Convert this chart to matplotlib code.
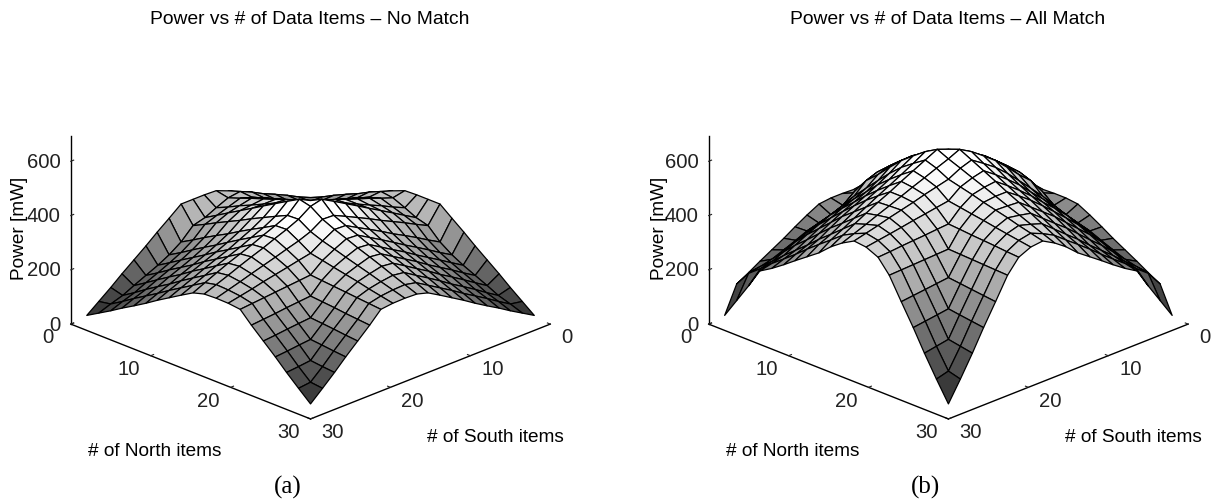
import numpy as np
import matplotlib
matplotlib.use('Agg')
import matplotlib.pyplot as plt
from matplotlib.colors import Normalize
from mpl_toolkits.mplot3d import Axes3D

plt.rcParams['font.family'] = ['Liberation Sans', 'DejaVu Sans']

# item counts on both horizontal axes
items = [1, 2.5, 4, 5.4, 6.9, 8.4, 9.8, 11.3, 12.8, 14.3, 15.7, 17.2, 18.7, 20.2, 21.6, 23.1, 24.6, 26, 27.5, 29]

xy_ticks = [0, 10, 20, 30]
# trailing space keeps the north 0 clear of the power 0 when right aligned
north_labels = ['0 ', '10', '20', '30']
power_ticks = [0, 200, 400, 600]

# power in mW, upper triangle only (the surface is mirrored across north = south)
power_no_match = [
    [130, 150, 175, 197, 220, 240, 262, 285, 303, 305, 305, 305, 270, 236, 202, 168, 134, 100, 66, 32],
    [175, 195, 217, 238, 258, 280, 300, 294, 275, 255, 243, 200, 170, 148, 128, 108, 88, 74, 58],
    [196, 215, 234, 255, 276, 296, 310, 295, 281, 265, 225, 196, 175, 155, 136, 116, 101, 84],
    [230, 250, 269, 289, 310, 326, 316, 306, 287, 250, 222, 201, 182, 163, 144, 128, 110],
    [265, 284, 303, 323, 341, 336, 332, 309, 275, 249, 228, 209, 191, 172, 155, 136],
    [299, 318, 338, 357, 357, 358, 331, 299, 275, 255, 236, 218, 199, 182, 163],
    [334, 353, 373, 377, 383, 353, 324, 301, 282, 264, 246, 227, 209, 190],
    [368, 388, 398, 409, 375, 349, 328, 308, 291, 273, 255, 236, 217],
    [404, 418, 435, 397, 373, 354, 335, 318, 301, 282, 263, 244],
    [439, 460, 418, 398, 380, 362, 345, 328, 310, 290, 270],
    [450, 420, 400, 383, 366, 350, 333, 316, 299, 282],
    [392, 375, 362, 349, 336, 323, 310, 297, 284],
    [347, 338, 329, 320, 311, 301, 292, 283],
    [302, 298, 294, 290, 286, 282, 278],
    [257, 253, 249, 244, 240, 236],
    [212, 208, 204, 199, 195],
    [167, 163, 158, 154],
    [122, 117, 113],
    [77, 72],
    [32],
]

power_all_match = [
    [32, 130, 155, 180, 205, 230, 255, 280, 308, 310, 310, 305, 282, 256, 230, 205, 180, 155, 130, 32],
    [190, 220, 250, 275, 300, 320, 355, 350, 330, 300, 283, 270, 258, 240, 222, 205, 195, 187, 104],
    [285, 310, 330, 350, 375, 405, 400, 392, 370, 335, 318, 305, 288, 270, 250, 232, 222, 176],
    [345, 370, 400, 425, 440, 445, 440, 425, 385, 365, 350, 332, 312, 290, 269, 257, 247],
    [400, 430, 460, 480, 483, 480, 465, 432, 410, 393, 374, 352, 328, 306, 291, 274],
    [450, 475, 495, 510, 518, 510, 478, 453, 433, 415, 392, 368, 343, 326, 305],
    [505, 525, 540, 552, 550, 520, 495, 472, 452, 430, 405, 380, 361, 336],
    [555, 565, 580, 585, 560, 533, 510, 490, 465, 440, 416, 396, 368],
    [590, 605, 618, 592, 568, 545, 524, 500, 476, 453, 430, 400],
    [628, 644, 622, 600, 578, 556, 535, 512, 490, 465, 440],
    [625, 608, 590, 573, 556, 538, 521, 504, 487, 470],
    [585, 574, 563, 551, 540, 529, 517, 506, 495],
    [540, 533, 526, 519, 511, 504, 497, 490],
    [490, 487, 483, 480, 477, 473, 470],
    [430, 428, 426, 424, 422, 420],
    [360, 355, 350, 345, 340],
    [280, 274, 268, 262],
    [200, 192, 184],
    [118, 106],
    [32],
]


def full_matrix(rows):
    n = len(rows)
    z = np.zeros((n, n))
    for i, row in enumerate(rows):
        z[i, i:] = row
        z[i:, i] = row
    return z


def draw_panel(rect, rows, vmin, vmax):
    ax = fig.add_axes(rect, projection='3d', proj_type='ortho')
    ax.patch.set_alpha(0)
    # x is south, y is north, so that 0/0 sits at the back corner
    S, N = np.meshgrid(items, items)
    ax.plot_surface(S, N, full_matrix(rows), rstride=1, cstride=1, cmap='gray',
                    norm=Normalize(vmin, vmax), edgecolor='k', linewidth=0.9, shade=False)
    ax.set_xlim(0, 30)
    ax.set_ylim(0, 30)
    ax.set_zlim(0, 692)
    ax.set_xticks(xy_ticks)
    ax.set_yticks(xy_ticks, labels=north_labels)
    ax.set_zticks(power_ticks)
    ax.set_box_aspect((1, 1, 0.603), zoom=1.008)
    ax.view_init(elev=23.3, azim=45)
    ax.grid(False)
    for axis in (ax.xaxis, ax.yaxis, ax.zaxis):
        axis.set_pane_color((1, 1, 1, 0))
        axis.line.set_color('k')
        axis.line.set_linewidth(1.0)
        axis._axinfo['tick']['inward_factor'] = 0.0
        axis._axinfo['tick']['outward_factor'] = 0.15
        axis._axinfo['tick']['linewidth'] = {True: 0.8, False: 0.8}
    ax.tick_params(labelsize=14.6, colors='#222222', pad=0.5)
    ax.tick_params(axis='z', pad=-4)
    # mplot3d centres tick labels, the original hangs them off the axis
    plt.setp(ax.get_xticklabels(), ha='left', va='center')
    plt.setp(ax.get_yticklabels(), ha='right', va='center')
    plt.setp(ax.get_zticklabels(), ha='right', va='center')
    return ax


fig = plt.figure(figsize=(12.15, 5.02), dpi=100)

draw_panel([0.0, 13 / 502, 0.5, 1.0], power_no_match, -45, 410)
draw_panel([0.525, 13 / 502, 0.5, 1.0], power_all_match, -60, 600)

H = 502.0
W = 1215.0
fig.text(310 / W, 1 - 19 / H, 'Power vs # of Data Items \u2013 No Match', ha='center', va='center', fontsize=13.9)
fig.text(948 / W, 1 - 19 / H, 'Power vs # of Data Items \u2013 All Match', ha='center', va='center', fontsize=13.9)
for x0 in (20, 659):
    fig.text(x0 / W, 1 - 228 / H, 'Power [mW]', rotation=90, ha='center', va='center', fontsize=13.7)
fig.text(155 / W, 1 - 452 / H, '# of North items', ha='center', va='center', fontsize=13.7)
fig.text(495 / W, 1 - 438 / H, '# of South items', ha='center', va='center', fontsize=13.7)
fig.text(793 / W, 1 - 452 / H, '# of North items', ha='center', va='center', fontsize=13.7)
fig.text(1133 / W, 1 - 438 / H, '# of South items', ha='center', va='center', fontsize=13.7)
fig.text(288 / W, 1 - 487 / H, '(a)', ha='center', va='center', fontsize=18, family='Liberation Serif')
fig.text(926 / W, 1 - 487 / H, '(b)', ha='center', va='center', fontsize=18, family='Liberation Serif')

fig.savefig('out.png', dpi=100)
